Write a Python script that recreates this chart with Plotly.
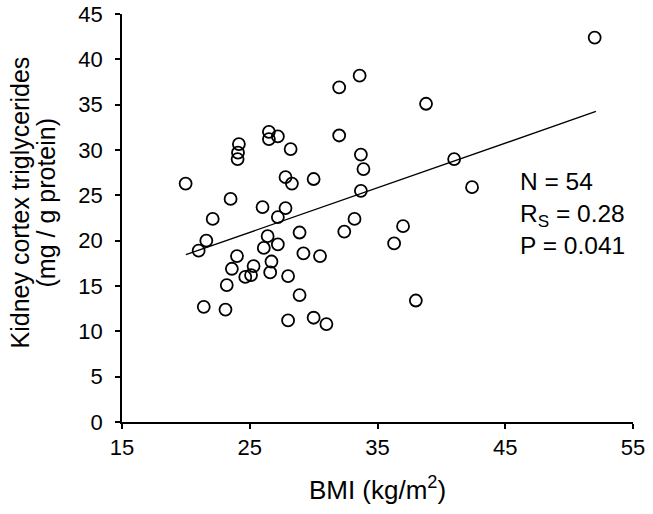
import plotly.graph_objects as go

bmi = [19.98, 23.5, 22.1, 24.15, 24.08, 24.05, 26.5, 26.5, 27.2, 28.2,
       27.8, 28.3, 30.0, 26.0, 27.8, 27.2, 32.0, 33.6, 32.0, 33.7,
       33.9, 33.7, 33.2, 21.6, 21.0, 26.4, 26.1, 27.2, 28.9, 32.4,
       29.2, 30.5, 24.0, 23.6, 25.3, 26.7, 24.65, 25.1, 26.6, 28.0,
       23.2, 28.9, 21.4, 23.1, 28.0, 30.0, 31.0, 52.0, 38.8, 41.0,
       42.4, 37.0, 36.3, 38.0]
trig = [26.3, 24.6, 22.4, 30.65, 29.7, 29.0, 32.0, 31.2, 31.5, 30.1,
        27.0, 26.3, 26.8, 23.7, 23.6, 22.6, 36.9, 38.2, 31.6, 29.5,
        27.9, 25.5, 22.4, 20.0, 18.9, 20.5, 19.2, 19.6, 20.9, 21.0,
        18.6, 18.3, 18.3, 16.9, 17.2, 17.7, 16.0, 16.2, 16.5, 16.1,
        15.1, 14.0, 12.7, 12.4, 11.2, 11.5, 10.8, 42.4, 35.1, 29.0,
        25.9, 21.6, 19.7, 13.4]

fit_x = [20.0, 52.1]
fit_y = [18.45, 34.25]

x_ticks = [15, 25, 35, 45, 55]
y_ticks = [0, 5, 10, 15, 20, 25, 30, 35, 40, 45]

y_title_lines = ["Kidney cortex triglycerides", "(mg / g protein)"]
stats_lines = ["N = 54", "R<sub>S</sub> = 0.28", "P = 0.041"]

FONT = "Liberation Sans, Arial, sans-serif"

fig = go.Figure()
fig.add_trace(go.Scatter(
    x=fit_x, y=fit_y, mode="lines",
    line=dict(color="black", width=1.3), showlegend=False, hoverinfo="skip"))
fig.add_trace(go.Scatter(
    x=bmi, y=trig, mode="markers",
    marker=dict(symbol="circle-open", size=12, color="black",
                line=dict(width=1.8, color="black")),
    showlegend=False))

ann = []
for txt, px in zip(y_title_lines, [-0.1996, -0.1468]):
    ann.append(dict(text=txt, xref="paper", yref="paper", x=px, y=0.538,
                    xanchor="center", yanchor="middle", textangle=-90,
                    showarrow=False, font=dict(size=25, family=FONT, color="black")))
ann.append(dict(text="<br>".join(stats_lines), xref="x", yref="y", x=46.0, y=22.95,
                xanchor="left", yanchor="middle", align="left", showarrow=False,
                font=dict(size=24.5, family=FONT, color="black")))

fig.update_layout(
    width=653, height=514,
    margin=dict(l=122, r=20, t=14, b=92, autoexpand=False),
    paper_bgcolor="white", plot_bgcolor="white",
    font=dict(family=FONT, color="black", size=22),
    xaxis=dict(range=[15, 55], tickvals=x_ticks, ticks="outside", ticklen=5,
               tickwidth=1.5, tickcolor="black", showline=True, linecolor="black",
               linewidth=1.5, showgrid=False, zeroline=False, automargin=False,
               ticklabeloverflow="allow",
               tickfont=dict(size=22, family=FONT),
               title=dict(text="BMI (kg/m<sup>2</sup>)", font=dict(size=26, family=FONT),
                          standoff=22)),
    yaxis=dict(range=[0, 45], tickvals=y_ticks, ticks="outside", ticklen=5,
               tickwidth=1.5, tickcolor="black", showline=True, linecolor="black",
               linewidth=1.5, showgrid=False, zeroline=False, automargin=False,
               ticklabelstandoff=8, ticklabeloverflow="allow",
               tickfont=dict(size=22, family=FONT)),
    annotations=ann,
)

fig.write_html("out.html", config={"displayModeBar": False},
               post_script="document.body.style.margin='0';")
